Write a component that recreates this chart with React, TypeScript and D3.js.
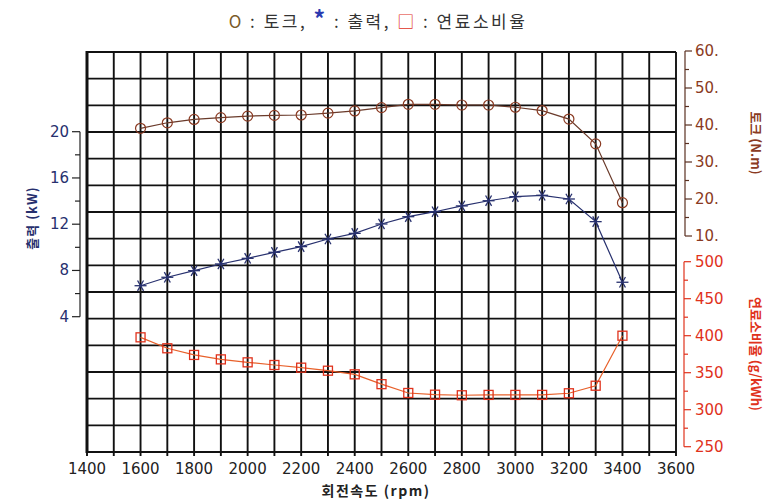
import React from "react";
import * as d3 from "d3";

const rpm = [1600,1700,1800,1900,2000,2100,2200,2300,2400,2500,2600,2700,2800,2900,3000,3100,3200,3300,3400];
const torque = [39.1,40.6,41.5,42.0,42.4,42.6,42.7,43.2,43.8,44.7,45.6,45.6,45.4,45.4,44.8,43.9,41.6,34.9,19.0];
const power = [6.68,7.41,7.98,8.56,9.05,9.57,10.06,10.72,11.21,12.02,12.65,13.08,13.58,14.03,14.38,14.5,14.18,12.22,6.98];
const fuel = [397.8,383,374,368,364,360.4,356.8,352.7,347.8,334.5,322.6,320.3,319.5,320,320,320,322.2,332.4,400];

const xTicks = [1400,1600,1800,2000,2200,2400,2600,2800,3000,3200,3400,3600];
const powerTicks = [4,8,12,16,20];
const torqueTicks = [10,20,30,40,50,60];
const fuelTicks = [250,300,350,400,450,500];

const W = 777, H = 504;
const L = 87, R = 676, T = 52, B = 452;

export default function App() {
  const x = d3.scaleLinear().domain([1400, 3600]).range([L, R]);
  const yGrid = d3.scaleLinear().domain([0, 15]).range([B, T]);
  const yP = d3.scaleLinear().domain([4, 20]).range([316.7, 131.7]);
  const yT = d3.scaleLinear().domain([10, 60]).range([236, 51]);
  const yF = d3.scaleLinear().domain([250, 500]).range([446.7, 261.7]);

  const vLines = d3.range(1400, 3601, 100);
  const hLines = d3.range(0, 16);

  const tLine = d3.line<number>().x((_, i) => x(rpm[i])).y((d) => yT(d));
  const pLine = d3.line<number>().x((_, i) => x(rpm[i])).y((d) => yP(d));
  const fLine = d3.line<number>().x((_, i) => x(rpm[i])).y((d) => yF(d));

  const font = "'DejaVu Sans', 'Liberation Sans', Arial, sans-serif";
  const kfont = "'Noto Sans CJK KR', sans-serif";
  const brown = "#8a3a22";
  const navy = "#27306e";
  const red = "#e0321c";

  const pMinor = d3.range(4, 20.01, 2);
  const tMinor = d3.range(10, 60.01, 5);
  const fMinor = d3.range(250, 500.01, 25);

  return (
    <svg width={W} height={H} style={{ position: "absolute", left: 0, top: 0, background: "#fff" }}>
      {/* title */}
      <text x={378} y={28} textAnchor="middle" fontFamily={kfont} fontSize={17} fill="#333" letterSpacing={2.5} style={{ whiteSpace: "pre" }}>
        <tspan fill="#7a5a2a">O</tspan>
        <tspan> : 토크, </tspan>
        <tspan fill="#2a3ab0" fontWeight="bold" fontSize={23}>*</tspan>
        <tspan> : 출력, </tspan>
        <tspan fill={red}>□</tspan>
        <tspan> : 연료소비율</tspan>
      </text>

      {/* grid */}
      {vLines.map((v) => (
        <line key={"v" + v} x1={x(v)} x2={x(v)} y1={T} y2={B + 4} stroke="#111" strokeWidth={1.9} />
      ))}
      {hLines.map((h) => (
        <line key={"h" + h} x1={L} x2={R} y1={yGrid(h)} y2={yGrid(h)} stroke="#111" strokeWidth={1.9} />
      ))}
      <line x1={L} x2={L} y1={T - 1} y2={B + 1} stroke="#111" strokeWidth={3} />

      {/* x labels */}
      {xTicks.map((t) => (
        <text key={"xt" + t} x={x(t)} y={474} textAnchor="middle" fontFamily={font} fontSize={15} fill="#222">{t}</text>
      ))}
      <text x={376} y={496} textAnchor="middle" fontFamily={kfont} fontSize={14} fontWeight="bold" fill="#222" letterSpacing={1.5}>회전속도 (rpm)</text>

      {/* left power axis */}
      <line x1={80} x2={80} y1={yP(20)} y2={yP(4)} stroke="#222" strokeWidth={1.2} />
      {pMinor.map((t) => (
        <line key={"pm" + t} x1={t % 4 === 0 ? 72 : 75} x2={80} y1={yP(t)} y2={yP(t)} stroke="#222" strokeWidth={1.2} />
      ))}
      {powerTicks.map((t) => (
        <text key={"pt" + t} x={69} y={yP(t) + 5} textAnchor="end" fontFamily={font} fontSize={15} fill={navy}>{t}</text>
      ))}
      <text transform="translate(37,218) rotate(-90)" textAnchor="middle" fontFamily={kfont} fontSize={13} fontWeight="bold" fill={navy} letterSpacing={1}>출력 (kW)</text>

      {/* right torque axis */}
      <line x1={685} x2={685} y1={yT(60)} y2={yT(10)} stroke="#5a3020" strokeWidth={1.2} />
      {tMinor.map((t) => (
        <line key={"tm" + t} x1={685} x2={t % 10 === 0 ? 692 : 689} y1={yT(t)} y2={yT(t)} stroke="#5a3020" strokeWidth={1.2} />
      ))}
      {torqueTicks.map((t) => (
        <text key={"tt" + t} x={695} y={yT(t) + 5} fontFamily={font} fontSize={15} fill={brown}>{t}.</text>
      ))}
      <text transform="translate(751,143) rotate(90)" textAnchor="middle" fontFamily={kfont} fontSize={13} fontWeight="bold" fill={brown}>토크 (N.m)</text>

      {/* right fuel axis */}
      <line x1={684} x2={684} y1={yF(500)} y2={yF(250)} stroke={red} strokeWidth={1.2} />
      {fMinor.map((t) => (
        <line key={"fm" + t} x1={684} x2={t % 50 === 0 ? 691 : 688} y1={yF(t)} y2={yF(t)} stroke={red} strokeWidth={1.2} />
      ))}
      {fuelTicks.map((t) => (
        <text key={"ft" + t} x={695} y={yF(t) + 5} fontFamily={font} fontSize={15} fill={red}>{t}</text>
      ))}
      <text transform="translate(751,354) rotate(90)" textAnchor="middle" fontFamily={kfont} fontSize={13} fontWeight="bold" fill={red}>연료소비율 (g/kWh)</text>

      {/* series */}
      <path d={tLine(torque) || ""} fill="none" stroke="#6a3a2a" strokeWidth={1.2} />
      {torque.map((d, i) => (
        <circle key={"tc" + i} cx={x(rpm[i])} cy={yT(d)} r={5} fill="none" stroke={brown} strokeWidth={1.2} />
      ))}

      <path d={pLine(power) || ""} fill="none" stroke={navy} strokeWidth={1.2} />
      {power.map((d, i) => {
        const cx = x(rpm[i]), cy = yP(d), s = 6;
        return (
          <g key={"pa" + i} stroke={navy} strokeWidth={1.3}>
            <line x1={cx - s} x2={cx + s} y1={cy} y2={cy} />
            <line x1={cx - s * 0.5} x2={cx + s * 0.5} y1={cy - s * 0.87} y2={cy + s * 0.87} />
            <line x1={cx - s * 0.5} x2={cx + s * 0.5} y1={cy + s * 0.87} y2={cy - s * 0.87} />
          </g>
        );
      })}

      <path d={fLine(fuel) || ""} fill="none" stroke="#e8602a" strokeWidth={1.2} />
      {fuel.map((d, i) => (
        <rect key={"fs" + i} x={x(rpm[i]) - 4.5} y={yF(d) - 4.5} width={9} height={9} fill="none" stroke={red} strokeWidth={1.3} />
      ))}
    </svg>
  );
}
